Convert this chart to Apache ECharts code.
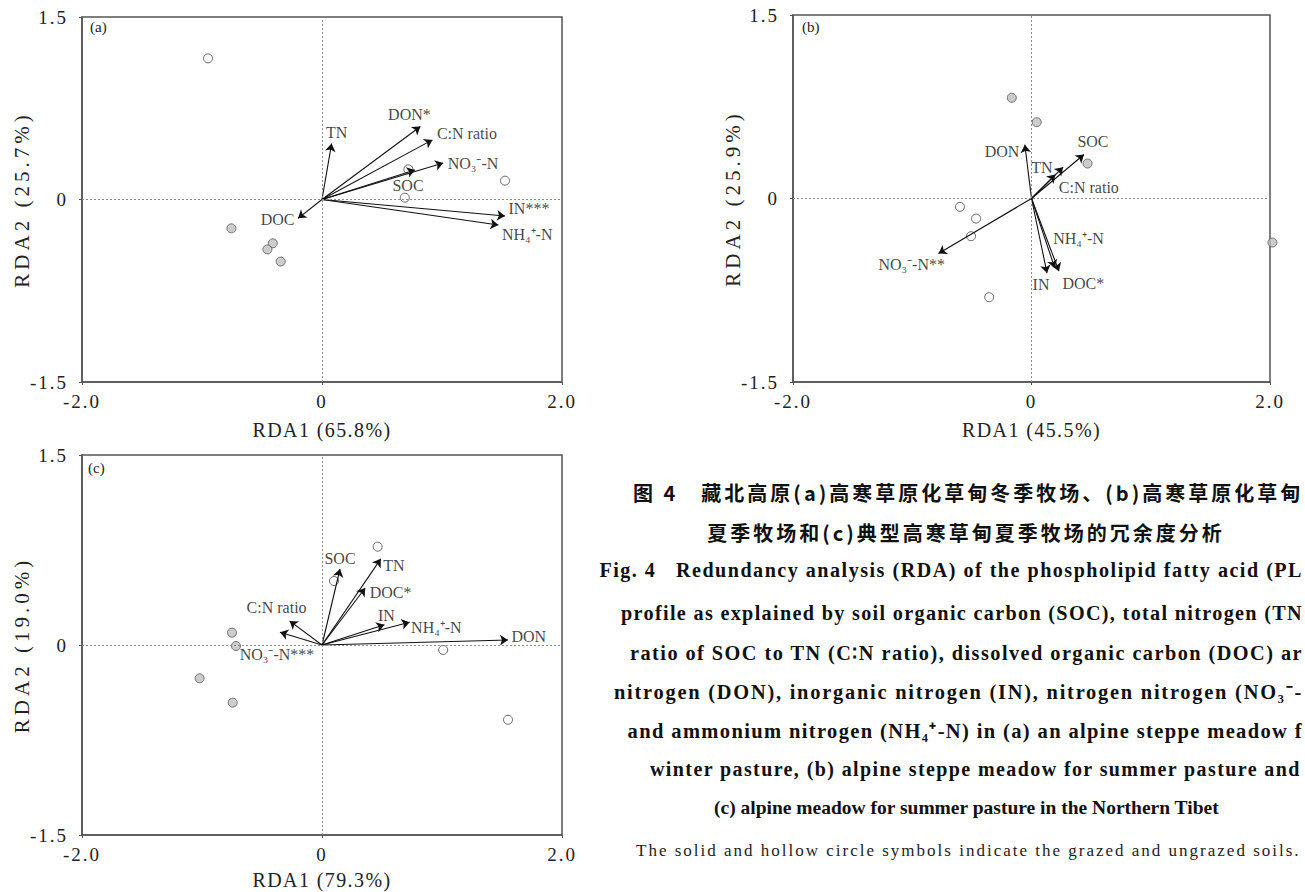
<!DOCTYPE html>
<html><head><meta charset="utf-8"><title>RDA</title>
<script src="https://cdn.jsdelivr.net/npm/echarts@6/dist/echarts.min.js"></script>
<style>
html,body{margin:0;padding:0;background:#fff;overflow:hidden;}
#chart{width:1305px;height:892px;}
#chart text[style*="19px"]{letter-spacing:2px;}
#chart text[style*="21px"]{letter-spacing:4px;}
#chart text[style*="20px"]{letter-spacing:1.4px;}
#chart text[style*="20.1px"]{letter-spacing:1.5px;}
#chart text[style*="20.2px"]{letter-spacing:1.32px;}
#chart text[style*="20.3px"]{letter-spacing:1.46px;}
#chart text[style*="20.4px"]{letter-spacing:1.77px;}
#chart text[style*="20.5px"]{letter-spacing:1.37px;}
#chart text[style*="17px"]{letter-spacing:2px;}
#chart text[style*="CJK"]{letter-spacing:3px;}
</style></head>
<body><div id="chart"></div>
<script>
// ---------- tick values & axis titles ----------
const xTicks = [-2, 0, 2];
const yTicks = [-1.5, 0, 1.5];
const xNames = ['RDA1 (65.8%)', 'RDA1 (45.5%)', 'RDA1 (79.3%)'];
const yNames = ['RDA2 (25.7%)', 'RDA2 (25.9%)', 'RDA2 (19.0%)'];
const panelTags = ['(a)', '(b)', '(c)'];

// ---------- panel (a) ----------
const aVarNames = ['TN', 'DON*', 'C:N ratio', 'NO₃⁻-N', 'SOC', 'IN***', 'NH₄⁺-N', 'DOC'];
const aVarX = [0.08, 0.82, 0.92, 1.01, 0.775, 1.525, 1.47, -0.20];
const aVarY = [0.46, 0.60, 0.49, 0.30, 0.243, -0.136, -0.21, -0.155];
const aGrazedX = [-0.755, -0.41, -0.455, -0.344];
const aGrazedY = [-0.237, -0.36, -0.41, -0.51];
const aUngrazedX = [-0.95, 0.72, 0.69, 1.525];
const aUngrazedY = [1.16, 0.248, 0.015, 0.155];

// ---------- panel (b) ----------
const bVarNames = ['DON', 'TN', 'C:N ratio', 'SOC', 'NO₃⁻-N**', 'IN', 'NH₄⁺-N', 'DOC*'];
const bVarX = [-0.056, 0.265, 0.20, 0.44, -0.78, 0.13, 0.195, 0.23];
const bVarY = [0.44, 0.256, 0.196, 0.36, -0.45, -0.61, -0.567, -0.594];
const bGrazedX = [-0.165, 0.044, 0.47, 2.02];
const bGrazedY = [0.823, 0.624, 0.286, -0.36];
const bUngrazedX = [-0.60, -0.465, -0.507, -0.355];
const bUngrazedY = [-0.068, -0.164, -0.308, -0.807];

// ---------- panel (c) ----------
const cVarNames = ['SOC', 'TN', 'DOC*', 'IN', 'NH₄⁺-N', 'DON', 'C:N ratio', 'NO₃⁻-N***'];
const cVarX = [0.15, 0.49, 0.36, 0.52, 0.73, 1.55, -0.27, -0.35];
const cVarY = [0.60, 0.68, 0.45, 0.16, 0.18, 0.04, 0.19, 0.10];
const cGrazedX = [-0.75, -0.717, -1.02, -0.744];
const cGrazedY = [0.097, -0.008, -0.263, -0.455];
const cUngrazedX = [0.464, 0.10, 1.01, 1.55];
const cUngrazedY = [0.776, 0.505, -0.039, -0.59];

// ---------- caption (as visible in the cropped figure) ----------
const captionCN = [
  '图 4　藏北高原(a)高寒草原化草甸冬季牧场、(b)高寒草原化草甸',
  '夏季牧场和(c)典型高寒草甸夏季牧场的冗余度分析'
];
const captionEN = [
  'Fig. 4   Redundancy analysis (RDA) of the phospholipid fatty acid (PL',
  'profile as explained by soil organic carbon (SOC), total nitrogen (TN',
  'ratio of SOC to TN (C∶N ratio), dissolved organic carbon (DOC) ar',
  'nitrogen (DON), inorganic nitrogen (IN), nitrogen nitrogen (NO₃⁻-',
  'and ammonium nitrogen (NH₄⁺-N) in (a) an alpine steppe meadow f',
  'winter pasture, (b) alpine steppe meadow for summer pasture and',
  '(c) alpine meadow for summer pasture in the Northern Tibet'
];
const captionNote = 'The solid and hollow circle symbols indicate the grazed and ungrazed soils.';

// ---------- styles (not data) ----------
const SERIF = 'Liberation Serif';
const CN_FONT = 'Noto Sans CJK SC';
const grids = [
  {left: 82, top: 17, width: 480, height: 365},
  {left: 793, top: 15, width: 477, height: 367},
  {left: 82, top: 455, width: 480, height: 380}
];
const xNameGaps = [38, 38, 35];
const yNameGaps = [50, 50, 50];
const aLabelPlace = [['top',5,-2],['top',-11,-3],['right',3,-6],['right',3,0],['bottom',-7,6],['right',2,-8],['right',2,9],['left',-2,1]];
const bLabelPlace = [['left',-4,7],['left',-9,0],['right',2,13],['top',9,-3],['left',8,11],['bottom',-6,2],['right',-3,-29],['right',2,12]];
const cLabelPlace = [['top',0,-1],['right',1,7],['right',3,4],['top',2,0],['right',0,5],['right',2,-3],['top',-13,-4],['bottom',-3,13]];
const tagPos = [[90, 27], [802, 27], [88, 468]];
// [x, y, fontSize, align]
const enPos = [[1303, 570, 20.1, 'right'], [1303, 613, 20.2, 'right'], [1303, 653, 20.3, 'right'], [1303, 692, 20.4, 'right'], [1303, 731, 20.5, 'right'], [650, 769, 20, 'left'], [714, 807, 19.5, 'left']];

const fmt = v => (v === 0 ? '0' : v.toFixed(1));

function makeX(gi) {
  return {
    type: 'value', gridIndex: gi,
    min: xTicks[0], max: xTicks[xTicks.length - 1], interval: xTicks[1] - xTicks[0],
    name: xNames[gi], nameLocation: 'middle', nameGap: xNameGaps[gi],
    nameTextStyle: {fontFamily: SERIF, fontSize: 20, color: '#222'},
    axisLine: {show: true, onZero: false, lineStyle: {color: '#555', width: 1.5}},
    axisTick: {show: true, length: 3, lineStyle: {color: '#555'}},
    axisLabel: {formatter: fmt, fontFamily: SERIF, fontSize: 19, color: '#222', margin: 10},
    splitLine: {show: false}
  };
}
function makeY(gi) {
  return {
    type: 'value', gridIndex: gi,
    min: yTicks[0], max: yTicks[yTicks.length - 1], interval: yTicks[1] - yTicks[0],
    name: yNames[gi], nameLocation: 'middle', nameGap: yNameGaps[gi],
    nameTextStyle: {fontFamily: SERIF, fontSize: 21, color: '#222'},
    axisLine: {show: true, onZero: false, lineStyle: {color: '#555', width: 1.5}},
    axisTick: {show: true, length: 3, lineStyle: {color: '#555'}},
    axisLabel: {formatter: fmt, fontFamily: SERIF, fontSize: 19, color: '#222', margin: 14},
    splitLine: {show: false}
  };
}

function panelSeries(gi, names, vx, vy, place, gx, gy, ux, uy) {
  const arrows = names.map((n, i) => ({coords: [[0, 0], [vx[i], vy[i]]]}));
  const labels = names.map((n, i) => ({
    name: n, value: [vx[i], vy[i]],
    label: {position: place[i][0], offset: [place[i][1], place[i][2]]}
  }));
  return [
    {
      type: 'scatter', xAxisIndex: gi, yAxisIndex: gi, z: 2, silent: true, clip: false,
      symbol: 'circle', symbolSize: 9,
      itemStyle: {color: '#ffffff', borderColor: '#444', borderWidth: 1},
      data: ux.map((x, i) => [x, uy[i]]),
      markLine: {
        silent: true, symbol: ['none', 'none'], label: {show: false},
        lineStyle: {type: [2, 2], color: '#8c8c8c', width: 1},
        emphasis: {disabled: true},
        data: [{xAxis: 0}, {yAxis: 0}]
      }
    },
    {
      type: 'scatter', xAxisIndex: gi, yAxisIndex: gi, z: 2, silent: true, clip: false,
      symbol: 'circle', symbolSize: 9,
      itemStyle: {color: '#bfbfbf', borderColor: '#555', borderWidth: 1},
      data: gx.map((x, i) => [x, gy[i]])
    },
    {
      type: 'lines', coordinateSystem: 'cartesian2d', xAxisIndex: gi, yAxisIndex: gi,
      z: 4, silent: true, polyline: false,
      symbol: ['none', 'arrow'], symbolSize: 8,
      lineStyle: {color: '#111', width: 1.1, opacity: 1, curveness: 0},
      data: arrows
    },
    {
      type: 'scatter', xAxisIndex: gi, yAxisIndex: gi, z: 5, silent: true,
      symbol: 'circle', symbolSize: 1, itemStyle: {color: 'rgba(0,0,0,0)'},
      label: {show: true, formatter: '{b}', distance: 1, fontFamily: SERIF, fontSize: 16, color: '#111'},
      data: labels
    }
  ];
}

const graphic = [];
panelTags.forEach((t, i) => graphic.push({
  type: 'text', x: tagPos[i][0], y: tagPos[i][1], silent: true,
  style: {text: t, fontFamily: SERIF, fontSize: 15, fill: '#222', align: 'left', verticalAlign: 'middle'}
}));
// Chinese caption
graphic.push({type: 'text', x: 633, y: 492, silent: true,
  style: {text: captionCN[0], fontFamily: CN_FONT, fontSize: 20, fontWeight: 'bold', fill: '#111', align: 'left', verticalAlign: 'middle'}});
graphic.push({type: 'text', x: 966, y: 532, silent: true,
  style: {text: captionCN[1], fontFamily: CN_FONT, fontSize: 20, fontWeight: 'bold', fill: '#111', align: 'center', verticalAlign: 'middle'}});
// English caption
captionEN.forEach((t, i) => graphic.push({
  type: 'text', x: enPos[i][0], y: enPos[i][1], silent: true,
  style: {text: t, fontFamily: SERIF, fontSize: enPos[i][2], fontWeight: 'bold', fill: '#111', align: enPos[i][3], verticalAlign: 'middle'}
}));
graphic.push({type: 'text', x: 636, y: 850, silent: true,
  style: {text: captionNote, fontFamily: SERIF, fontSize: 17, fill: '#222', align: 'left', verticalAlign: 'middle'}});

const option = {
  animation: false,
  backgroundColor: '#ffffff',
  grid: grids.map(g => Object.assign({show: true, borderColor: '#555', borderWidth: 1.5, backgroundColor: 'transparent', containLabel: false}, g)),
  xAxis: [makeX(0), makeX(1), makeX(2)],
  yAxis: [makeY(0), makeY(1), makeY(2)],
  series: [].concat(
    panelSeries(0, aVarNames, aVarX, aVarY, aLabelPlace, aGrazedX, aGrazedY, aUngrazedX, aUngrazedY),
    panelSeries(1, bVarNames, bVarX, bVarY, bLabelPlace, bGrazedX, bGrazedY, bUngrazedX, bUngrazedY),
    panelSeries(2, cVarNames, cVarX, cVarY, cLabelPlace, cGrazedX, cGrazedY, cUngrazedX, cUngrazedY)
  ),
  graphic: graphic
};

const chart = echarts.init(document.getElementById('chart'), null, {renderer: 'svg', width: 1305, height: 892});
chart.setOption(option);
</script>
</body></html>
